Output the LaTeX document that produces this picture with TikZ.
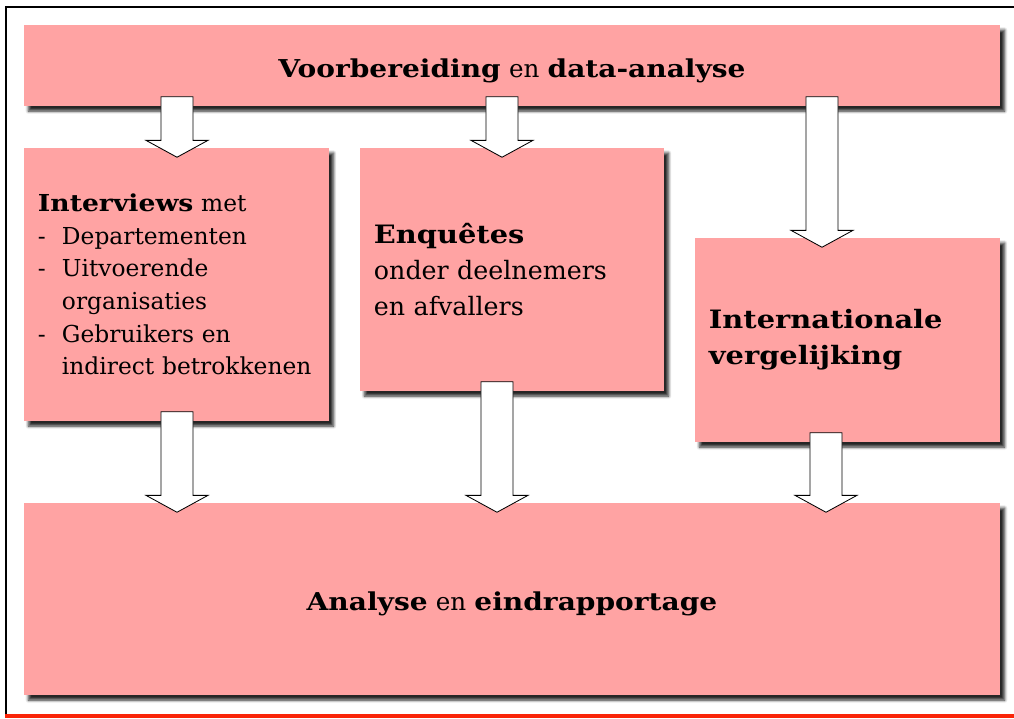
\documentclass[tikz,border=0pt]{standalone}
\usepackage{fontspec}
\setmainfont{DejaVu Serif}[BoldFeatures={FakeStretch=1.14}]
\usetikzlibrary{calc,shadows.blur}
\definecolor{boxpink}{RGB}{255,163,163}
\definecolor{framered}{RGB}{250,36,8}
\tikzset{
  stage/.style={fill=boxpink, inner xsep=0.35cm, inner ysep=0pt, align=left,
    font=\fontsize{17.5}{23.5}\selectfont,
    blur shadow={shadow xshift=3.2pt, shadow yshift=-3.6pt, shadow blur steps=6, shadow opacity=85}},
  listlines/.style={font=\fontsize{16.6}{23.2}\selectfont},
  widelines/.style={font=\fontsize{18}{25.5}\selectfont},
  arrowbox/.style={draw=black, fill=white, line width=0.6pt, line join=miter},
}
\newcommand{\dashitem}{\makebox[0.6cm][l]{-}}
\newcommand{\blockarrow}[3]{%
  \draw[arrowbox] let \p1=(#1.south), \p2=(#2.north), \p3=(#3,0) in
    (\x3-11.4pt,\y1+6.8pt) -- (\x3+11.4pt,\y1+6.8pt) -- (\x3+11.4pt,\y2+5.2pt)
    -- (\x3+22pt,\y2+5.2pt) -- (\x3,\y2-6.8pt) -- (\x3-22pt,\y2+5.2pt)
    -- (\x3-11.4pt,\y2+5.2pt) -- cycle;}
\begin{document}
\begin{tikzpicture}[x=0.025cm,y=-0.025cm]
\useasboundingbox (0,0) rectangle (1014,718);
% frame
\draw[line width=1.6pt] (6,716) -- (6,7) -- (1014,7);
\draw[framered, line width=2.2pt] (5,716) -- (1014,716);
% stages
\node[stage, align=center, text width=23.7cm, minimum height=2.025cm] (voorb) at (512,65.5)
  {\rule{0pt}{2.3ex}\textbf{Voorbereiding} en \textbf{data-analyse}};
\node[stage, listlines, text width=6.925cm, minimum height=6.825cm] (interv) at (176.5,284.5)
  {\mbox{\textbf{Interviews} met}\\
   \mbox{\dashitem Departementen}\\
   \mbox{\dashitem Uitvoerende}\\
   \mbox{\hspace*{0.6cm}organisaties}\\
   \mbox{\dashitem Gebruikers en}\\
   \mbox{\hspace*{0.6cm}indirect betrokkenen}};
\node[stage, widelines, text width=6.9cm, minimum height=6.075cm] (enquete) at (512,269.5)
  {\textbf{Enquêtes}\\ onder deelnemers\\ en afvallers};
\node[stage, widelines, text width=6.925cm, minimum height=5.1cm] (internat) at (847.5,340)
  {\textbf{Internationale}\\ \textbf{vergelijking}};
\node[stage, align=center, text width=23.7cm, minimum height=4.8cm] (analyse) at (512,599)
  {\rule{0pt}{2.3ex}\textbf{Analyse} en \textbf{eindrapportage}};
% arrows
\blockarrow{voorb}{interv}{177}
\blockarrow{voorb}{enquete}{502}
\blockarrow{voorb}{internat}{822}
\blockarrow{interv}{analyse}{177}
\blockarrow{enquete}{analyse}{497}
\blockarrow{internat}{analyse}{826}
\end{tikzpicture}
\end{document}
